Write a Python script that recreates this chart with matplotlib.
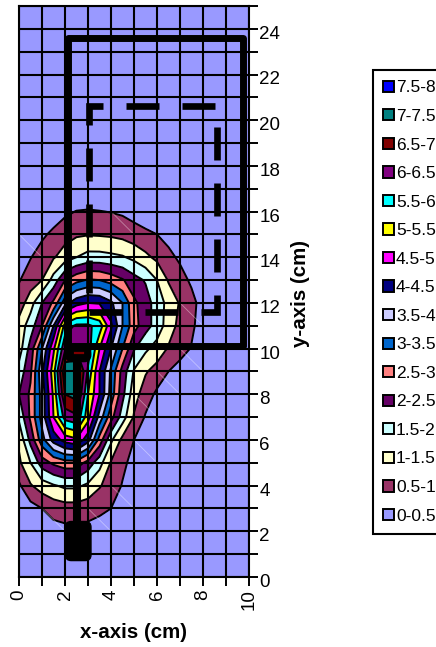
import numpy as np
import matplotlib
matplotlib.use("Agg")
import matplotlib.pyplot as plt
from matplotlib.patches import Patch, FancyBboxPatch
from matplotlib.transforms import ScaledTranslation

plt.rcParams["font.family"] = ["Liberation Sans", "DejaVu Sans"]

### Data
# measured value on a grid, x every 0.5 cm from 0, y every 1 cm from 2
x_vals = np.arange(0, 8.51, 0.5)
y_vals = np.arange(2, 18)
row_y2 = [0, 0.05, 0.15, 0.3, 0.35, 0.38, 0.35, 0.3, 0.2, 0.1]
row_y3 = [0.1, 0.3, 0.5, 0.7, 0.78, 0.78, 0.7, 0.6, 0.5, 0.3, 0.1]
row_y4 = [0.42, 0.95, 1.25, 1.45, 1.6, 1.6, 1.4, 1.05, 0.75, 0.47, 0.2, 0.05]
row_y5 = [0.9, 1.5, 2.25, 2.6, 2.8, 2.8, 2.3, 1.7, 0.95, 0.6, 0.35, 0.05]
row_y6 = [1.1, 2.15, 3.3, 4.2, 4.7, 4.9, 4.2, 2.8, 1.6, 0.85, 0.5, 0.2, 0.05]
row_y7 = [1.6, 2.6, 3.7, 5.0, 6.2, 6.4, 5.2, 3.8, 2.7, 1.75, 0.95, 0.45, 0.2]
row_y8 = [2.0, 2.6, 3.7, 5.1, 7.0, 7.2, 5.5, 4.5, 3.3, 2.15, 1.2, 0.75, 0.4, 0.15]
row_y9 = [1.7, 2.4, 3.9, 5.3, 7.4, 7.5, 5.9, 4.5, 3.4, 2.3, 1.45, 1.05, 0.8, 0.5, 0.3, 0.1]
row_y10 = [1.25, 2.2, 3.5, 4.9, 6.4, 6.45, 6.3, 5.0, 4.0, 3.0, 2.05, 1.6, 1.3, 0.95, 0.7, 0.47, 0.2]
row_y11 = [1.2, 1.75, 2.5, 4.0, 5.7, 6.1, 6.1, 5.8, 4.6, 3.5, 2.7, 2.2, 1.8, 1.25, 0.85, 0.6, 0.25, 0.05]
row_y12 = [0.7, 1.3, 2.0, 2.6, 3.8, 4.3, 4.5, 4.45, 4.1, 3.5, 2.6, 2.25, 1.75, 1.35, 0.95, 0.65, 0.3, 0.1]
row_y13 = [0.47, 0.72, 1.0, 1.7, 2.5, 2.85, 3.05, 3.0, 2.8, 2.55, 2.2, 1.95, 1.5, 0.95, 0.68, 0.42, 0.2, 0.05]
row_y14 = [0.25, 0.48, 0.7, 0.95, 1.25, 1.5, 1.68, 1.68, 1.62, 1.55, 1.37, 1.12, 0.88, 0.62, 0.42, 0.2, 0.05]
row_y15 = [0.1, 0.25, 0.42, 0.6, 0.8, 0.93, 0.97, 0.95, 0.92, 0.85, 0.72, 0.6, 0.5, 0.35, 0.2]
row_y16 = [0, 0.05, 0.15, 0.25, 0.4, 0.52, 0.55, 0.52, 0.48, 0.42, 0.3, 0.2, 0.1]
row_y17 = [0]
z_rows = [row_y2, row_y3, row_y4, row_y5, row_y6, row_y7, row_y8, row_y9, row_y10,
          row_y11, row_y12, row_y13, row_y14, row_y15, row_y16, row_y17]

levels = np.arange(0, 8.01, 0.5)
band_labels = ["0-0.5", "0.5-1", "1-1.5", "1.5-2", "2-2.5", "2.5-3", "3-3.5", "3.5-4",
               "4-4.5", "4.5-5", "5-5.5", "5.5-6", "6-6.5", "6.5-7", "7-7.5", "7.5-8"]
band_colors = ["#9999FF", "#993366", "#FFFFCC", "#CCFFFF", "#660066", "#FF8080", "#0066CC", "#CCCCFF",
               "#000080", "#FF00FF", "#FFFF00", "#00FFFF", "#800080", "#800000", "#008080", "#0000FF"]

# the outlines drawn over the chart
solid_x = [2.13, 2.13, 9.74, 9.74, 2.13]
solid_y = [10.1, 23.6, 23.6, 10.1, 10.1]
dash_x = [3.04, 8.6, 8.6, 3.04, 3.04]
dash_y = [11.6, 11.6, 20.6, 20.6, 11.6]
stem_x = [2.52, 2.52]
stem_y = [10.0, 2.0]
# grid cells (lower left corner) that show a faint light seam
seam_x = [0, 4, 7, 7, 6, 5, 5, 4, 3, 1]
seam_y = [14, 15, 11, 9, 8, 7, 5, 3, 2, 2]

### Graphing
Z = np.array([r + [0] * (len(x_vals) - len(r)) for r in z_rows])

fig = plt.figure(figsize=(4.36, 6.47), dpi=100)
ax = fig.add_axes([19 / 436, 1 - 577 / 647, 230 / 436, 571 / 647])
ax.set_facecolor(band_colors[0])
ax.contourf(x_vals, y_vals, Z, levels=levels, colors=band_colors, zorder=1)
ax.contour(x_vals, y_vals, Z, levels=levels[1:-1], colors="black", linewidths=1.4, zorder=1.5)
for sx, sy in zip(seam_x, seam_y):
    ax.plot([sx, sx + 1], [sy + 1, sy], color="white", lw=0.6, alpha=0.4, zorder=1.7)

ax.set_xlim(0, 10)
ax.set_ylim(0, 25)
ax.set_xticks(range(0, 11))
ax.set_yticks(range(0, 26))
ax.set_xticklabels([str(i) if i % 2 == 0 else "" for i in range(0, 11)], rotation=90, fontsize=13.5)
ax.set_yticklabels([str(i) if i % 2 == 0 else "" for i in range(0, 26)], fontsize=13.5)
ax.yaxis.tick_right()
ax.tick_params(length=6.3, width=1.4, color="black")
ax.tick_params(axis="y", pad=1)
ax.tick_params(axis="x", pad=2.5)
ax.grid(True, color="black", lw=1.5, zorder=2)
ax.set_axisbelow(False)
for s in ax.spines.values():
    s.set_linewidth(1.5)

# Excel puts the tick labels a little low
for lab in ax.get_yticklabels():
    lab.set_transform(lab.get_transform() + ScaledTranslation(0, -2.5 / 72, fig.dpi_scale_trans))

ax.plot(solid_x, solid_y, color="black", lw=5, solid_joinstyle="round", zorder=3)
ax.plot(dash_x, dash_y, color="black", lw=4.8, linestyle=(0, (4.95, 3.45)),
        dash_capstyle="butt", dash_joinstyle="miter", zorder=3)
ax.plot(stem_x, stem_y, color="black", lw=5.8, zorder=3)
ax.add_patch(FancyBboxPatch((2.1, 0.8), 0.95, 1.55, boxstyle="round,pad=0.08,rounding_size=0.25",
                            mutation_aspect=1, fc="black", ec="black", zorder=3))
ax.add_patch(FancyBboxPatch((2.05, 9.45), 1.05, 0.6, boxstyle="round,pad=0.02,rounding_size=0.3",
                            fc="black", ec="black", zorder=3))
ax.plot([2.45, 2.8], [9.8, 9.8], color="#800000", lw=1.6, zorder=3.5)

fig.text(134 / 436, 1 - 633 / 647, "x-axis (cm)", fontsize=14.8, fontweight="bold", ha="center", va="center")
fig.text(300 / 436, 1 - 293 / 647, "y-axis (cm)", fontsize=14.8, fontweight="bold", rotation=90,
         ha="center", va="center")

handles = [Patch(facecolor=c, edgecolor="black", linewidth=1.4) for c in band_colors[::-1]]
fig.legend(handles, band_labels[::-1], loc="upper left", bbox_to_anchor=(373 / 436, 1 - 70 / 647),
           borderaxespad=0, fontsize=12.5, frameon=True, fancybox=False, edgecolor="black",
           framealpha=1, handlelength=0.62, handleheight=0.62, handletextpad=0.1,
           labelspacing=0.78, borderpad=0.6).get_frame().set_linewidth(1.5)

fig.savefig("out.png", dpi=100)
